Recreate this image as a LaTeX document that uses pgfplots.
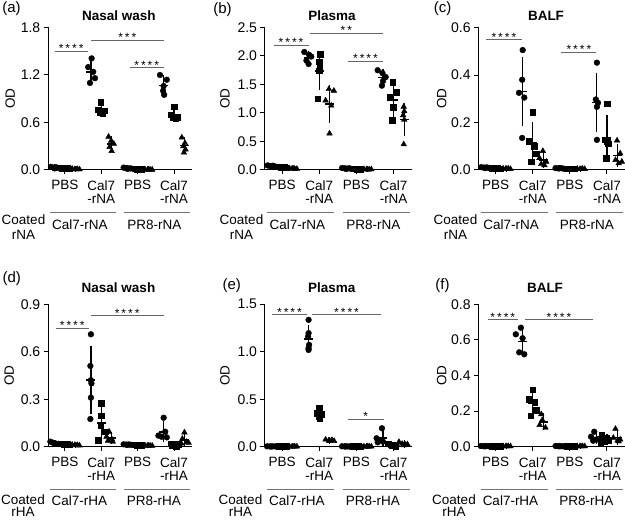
\documentclass[border=0pt]{standalone}
\usepackage{fontspec}
\setmainfont{Liberation Sans}
\usepackage{pgfplots}
\pgfplotsset{compat=1.18}
\newcommand{\fA}{\fontsize{13.5}{13.4}\selectfont}
\newcommand{\fB}{\fontsize{14}{14}\selectfont}
\tikzset{
  star/.style={anchor=base, yshift=-1.3pt, font=\fontsize{12}{12}\selectfont, inner sep=0pt},
  sig/.style={draw=black!60, line width=0.9pt},
  grp/.style={draw=black!55, line width=0.9pt},
  lab/.style={font=\fA, inner sep=0pt, anchor=base},
}
\pgfplotsset{
  panel/.style={
    scale only axis, height=142.5pt, clip=false,
    axis lines=left, axis line style={-, line width=1pt, black},
    tick style={line width=1pt, black}, tick align=outside, major tick length=4.5pt,
    xmin=-0.6, xmax=13.2, ymin=0,
    xtick={1,4.5,8,11.5},
    xticklabel style={align=center, font=\fA, yshift=-2.5pt},
    yticklabel style={font=\fB, /pgf/number format/.cd, fixed, fixed zerofill, precision=1},
    /pgf/number format/assume math mode=true,
    anchor=south west,
  },
  circ/.style={only marks, mark=*, mark size=2.9pt, black},
  sqr/.style={only marks, mark=square*, mark size=2.8pt, black},
  tri/.style={only marks, mark=triangle*, mark size=3.3pt, black},
  msd/.style={only marks, mark=-, mark size=4.5pt, mark options={line width=1.5pt}, black,
    error bars/.cd, y dir=both, y explicit, error bar style={line width=1.3pt, black},
    error mark options={mark size=2.5pt, line width=1.3pt, black}},
}
\begin{document}
\begin{tikzpicture}
\useasboundingbox (0pt,0pt) rectangle (625pt,520pt);

% ---------------- (a) ----------------
\begin{axis}[panel, at={(48.3pt,350pt)}, width=143.4pt, ymax=1.8, ytick={0,0.6,1.2,1.8},
  xticklabels={PBS,{Cal7\\-rNA},PBS,{Cal7\\-rNA}}]
\addplot[circ] coordinates {(-0.35,0.04)(-0.1,0.03)(0.15,0.035)(0.35,0.025)(0.0,0.02)
 (3.57,1.41)(3.24,1.30)(3.72,1.24)(3.89,1.16)(3.41,1.10)
 (6.65,0.03)(6.9,0.025)(7.15,0.02)(7.35,0.02)(7.0,0.015)
 (10.15,1.2)(10.8,1.14)(10.5,1.06)(10.45,1.0)(10.55,0.95)};
\addplot[sqr] coordinates {(0.7,0.025)(0.95,0.02)(1.2,0.02)(1.4,0.015)(1.05,0.018)
 (4.45,0.86)(4.2,0.76)(4.8,0.75)(4.35,0.73)(4.65,0.72)
 (7.7,0.015)(7.95,0.01)(8.2,0.012)(8.4,0.008)(8.05,0.01)
 (11.5,0.80)(11.2,0.70)(11.8,0.67)(11.4,0.66)(11.65,0.65)};
\addplot[tri] coordinates {(1.7,0.015)(1.95,0.01)(2.2,0.012)(2.4,0.008)(2.05,0.01)
 (5.2,0.42)(5.45,0.37)(5.7,0.33)(5.3,0.29)(5.5,0.24)
 (8.7,0.008)(8.95,0.005)(9.2,0.006)(9.4,0.004)(9.05,0.005)
 (12.25,0.41)(12.55,0.34)(12.4,0.30)(12.6,0.26)(12.45,0.22)};
\addplot[msd] coordinates {(0,0.03)+-(0,0.008) (1,0.02)+-(0,0.004) (2,0.011)+-(0,0.003)
 (3.5,1.24)+-(0,0.14) (4.5,0.76)+-(0,0.055) (5.5,0.33)+-(0,0.07)
 (7,0.022)+-(0,0.006) (8,0.011)+-(0,0.003) (9,0.006)+-(0,0.002)
 (10.5,1.07)+-(0,0.10) (11.5,0.70)+-(0,0.06) (12.5,0.31)+-(0,0.07)};
\draw[sig] (axis cs:0,1.5) -- node[star]{*\,*\,*\,*} (axis cs:3.2,1.5);
\draw[sig] (axis cs:3.5,1.64) -- node[star]{*\,*\,*} (axis cs:10.5,1.64);
\draw[sig] (axis cs:7.25,1.29) -- node[star]{*\,*\,*\,*} (axis cs:10.5,1.29);
\draw[grp] ([yshift=-42.5pt]axis cs:-0.4,0) -- ([yshift=-42.5pt]axis cs:5.9,0);
\draw[grp] ([yshift=-42.5pt]axis cs:6.7,0) -- ([yshift=-42.5pt]axis cs:13.0,0);
\node[lab] at ([yshift=-60pt]axis cs:2.45,0) {Cal7-rNA};
\node[lab] at ([yshift=-60pt]axis cs:9.6,0) {PR8-rNA};
\node[rotate=90, font=\fA] at ([xshift=-38pt]axis description cs:0,0.5) {OD};
\end{axis}

% ---------------- (b) ----------------
\begin{axis}[panel, at={(265pt,350pt)}, width=146.7pt, ymax=2.5, ytick={0,0.5,1,1.5,2,2.5},
  xticklabels={PBS,{Cal7\\-rNA},PBS,{Cal7\\-rNA}}]
\addplot[circ] coordinates {(-0.35,0.08)(-0.1,0.07)(0.15,0.075)(0.35,0.06)(0.0,0.065)
 (3.1,2.07)(3.55,2.02)(3.75,1.99)(3.3,1.92)(3.5,1.86)
 (6.65,0.035)(6.9,0.03)(7.15,0.025)(7.35,0.03)(7.0,0.02)
 (10.0,1.75)(10.45,1.70)(10.75,1.63)(10.5,1.56)(10.4,1.48)};
\addplot[sqr] coordinates {(0.7,0.06)(0.95,0.05)(1.2,0.045)(1.4,0.04)(1.05,0.05)
 (4.6,2.03)(4.5,1.90)(4.55,1.80)(4.5,1.74)(4.35,1.25)
 (7.7,0.02)(7.95,0.02)(8.2,0.015)(8.4,0.015)(8.05,0.01)
 (11.4,1.54)(11.75,1.36)(11.2,1.28)(11.45,1.10)(11.35,0.87)};
\addplot[tri] coordinates {(1.7,0.03)(1.95,0.025)(2.2,0.02)(2.4,0.02)(2.05,0.025)
 (5.41,1.42)(5.88,1.39)(5.1,1.22)(5.63,1.13)(5.47,0.64)
 (8.7,0.015)(8.95,0.012)(9.2,0.01)(9.4,0.012)(9.05,0.008)
 (12.45,1.11)(12.5,1.03)(12.4,0.96)(12.5,0.88)(12.45,0.45)};
\addplot[msd] coordinates {(0,0.07)+-(0,0.008) (1,0.05)+-(0,0.008) (2,0.024)+-(0,0.004)
 (3.5,1.97)+-(0,0.08) (4.5,1.74)+-(0,0.30) (5.5,1.16)+-(0,0.29)
 (7,0.028)+-(0,0.005) (8,0.015)+-(0,0.004) (9,0.011)+-(0,0.003)
 (10.5,1.62)+-(0,0.11) (11.5,1.23)+-(0,0.26) (12.5,0.89)+-(0,0.25)};
\draw[sig] (axis cs:0.2,2.19) -- node[star]{*\,*\,*\,*} (axis cs:3.5,2.19);
\draw[sig] (axis cs:3.6,2.40) -- node[star]{*\,*} (axis cs:10.5,2.40);
\draw[sig] (axis cs:7.2,1.90) -- node[star]{*\,*\,*\,*} (axis cs:10.5,1.90);
\draw[grp] ([yshift=-42.5pt]axis cs:-0.4,0) -- ([yshift=-42.5pt]axis cs:5.9,0);
\draw[grp] ([yshift=-42.5pt]axis cs:6.7,0) -- ([yshift=-42.5pt]axis cs:13.0,0);
\node[lab] at ([yshift=-60pt]axis cs:2.45,0) {Cal7-rNA};
\node[lab] at ([yshift=-60pt]axis cs:9.6,0) {PR8-rNA};
\node[rotate=90, font=\fA] at ([xshift=-40pt]axis description cs:0,0.5) {OD};
\end{axis}

% ---------------- (c) ----------------
\begin{axis}[panel, at={(478.7pt,350pt)}, width=146.3pt, ymax=0.6, ytick={0,0.2,0.4,0.6},
  xticklabels={PBS,{Cal7\\-rNA},PBS,{Cal7\\-rNA}}]
\addplot[circ] coordinates {(-0.35,0.012)(-0.1,0.01)(0.15,0.011)(0.35,0.009)(0.0,0.008)
 (3.55,0.505)(3.5,0.38)(3.2,0.325)(3.7,0.305)(3.5,0.135)
 (6.65,0.008)(6.9,0.007)(7.15,0.008)(7.35,0.006)(7.0,0.007)
 (10.55,0.452)(10.45,0.297)(10.65,0.283)(10.55,0.266)(10.55,0.127)};
\addplot[sqr] coordinates {(0.7,0.008)(0.95,0.007)(1.2,0.008)(1.4,0.006)(1.05,0.007)
 (4.5,0.243)(4.18,0.12)(4.65,0.10)(4.8,0.068)(4.34,0.035)
 (7.7,0.006)(7.95,0.005)(8.2,0.006)(8.4,0.005)(8.05,0.006)
 (11.5,0.28)(11.35,0.127)(11.6,0.11)(11.4,0.05)(11.5,0.12)};
\addplot[tri] coordinates {(1.7,0.006)(1.95,0.005)(2.2,0.006)(2.4,0.004)(2.05,0.005)
 (5.45,0.08)(5.13,0.05)(5.77,0.035)(5.3,0.025)(5.6,0.02)
 (8.7,0.005)(8.95,0.004)(9.2,0.005)(9.4,0.004)(9.05,0.004)
 (12.45,0.124)(12.75,0.07)(12.3,0.042)(12.9,0.035)(12.6,0.028)};
\addplot[msd] coordinates {(0,0.01)+-(0,0.002) (1,0.007)+-(0,0.001) (2,0.005)+-(0,0.001)
 (3.5,0.33)+-(0,0.135) (4.5,0.113)+-(0,0.077) (5.5,0.042)+-(0,0.024)
 (7,0.007)+-(0,0.001) (8,0.006)+-(0,0.001) (9,0.004)+-(0,0.001)
 (10.5,0.285)+-(0,0.113) (11.5,0.137)+-(0,0.085) (12.5,0.06)+-(0,0.038)};
\draw[sig] (axis cs:0.1,0.548) -- node[star]{*\,*\,*\,*} (axis cs:3.45,0.548);
\draw[sig] (axis cs:7.2,0.494) -- node[star]{*\,*\,*\,*} (axis cs:10.5,0.494);
\draw[grp] ([yshift=-42.5pt]axis cs:-0.4,0) -- ([yshift=-42.5pt]axis cs:5.9,0);
\draw[grp] ([yshift=-42.5pt]axis cs:6.7,0) -- ([yshift=-42.5pt]axis cs:13.0,0);
\node[lab] at ([yshift=-60pt]axis cs:2.45,0) {Cal7-rNA};
\node[lab] at ([yshift=-60pt]axis cs:9.6,0) {PR8-rNA};
\node[rotate=90, font=\fA] at ([xshift=-37pt]axis description cs:0,0.5) {OD};
\end{axis}

% ---------------- (d) ----------------
\begin{axis}[panel, at={(48.3pt,73.3pt)}, width=143.4pt, ymax=0.9, ytick={0,0.3,0.6,0.9},
  xticklabels={PBS,{Cal7\\-rHA},PBS,{Cal7\\-rHA}}]
\addplot[circ] coordinates {(-0.4,0.032)(-0.15,0.025)(0.1,0.02)(0.35,0.018)(0.0,0.022)
 (3.5,0.71)(3.45,0.51)(3.5,0.42)(3.55,0.40)(3.5,0.31)(3.45,0.175)
 (6.65,0.015)(6.9,0.013)(7.15,0.014)(7.35,0.012)(7.0,0.012)
 (10.5,0.183)(10.0,0.07)(10.65,0.095)(10.3,0.063)(10.8,0.059)};
\addplot[sqr] coordinates {(0.7,0.018)(0.95,0.015)(1.2,0.015)(1.4,0.012)(1.05,0.014)
 (4.5,0.274)(4.5,0.196)(4.45,0.137)(4.85,0.095)(4.2,0.042)
 (7.7,0.012)(7.95,0.01)(8.2,0.011)(8.4,0.009)(8.05,0.01)
 (11.2,0.02)(11.45,0.01)(11.7,0.005)(11.9,0.015)(11.3,0.008)};
\addplot[tri] coordinates {(1.7,0.012)(1.95,0.01)(2.2,0.01)(2.4,0.008)(2.05,0.009)
 (5.25,0.095)(5.0,0.063)(5.5,0.049)(5.15,0.038)(5.6,0.032)
 (8.7,0.008)(8.95,0.007)(9.2,0.007)(9.4,0.006)(9.05,0.006)
 (12.5,0.09)(12.3,0.05)(12.7,0.03)(12.9,0.025)(12.2,0.02)};
\addplot[msd] coordinates {(0,0.023)+-(0,0.005) (1,0.015)+-(0,0.003) (2,0.01)+-(0,0.002)
 (3.5,0.42)+-(0,0.20) (4.5,0.15)+-(0,0.085) (5.5,0.055)+-(0,0.025)
 (7,0.013)+-(0,0.002) (8,0.01)+-(0,0.001) (9,0.007)+-(0,0.001)
 (10.5,0.094)+-(0,0.05) (11.5,0.012)+-(0,0.006) (12.5,0.043)+-(0,0.03)};
\draw[sig] (axis cs:0.1,0.748) -- node[star]{*\,*\,*\,*} (axis cs:3.3,0.748);
\draw[sig] (axis cs:3.47,0.826) -- node[star]{*\,*\,*\,*} (axis cs:10.5,0.826);
\draw[grp] ([yshift=-42.5pt]axis cs:-0.4,0) -- ([yshift=-42.5pt]axis cs:5.9,0);
\draw[grp] ([yshift=-42.5pt]axis cs:6.7,0) -- ([yshift=-42.5pt]axis cs:13.0,0);
\node[lab] at ([yshift=-59pt]axis cs:2.4,0) {Cal7-rHA};
\node[lab] at ([yshift=-59pt]axis cs:9.55,0) {PR8-rHA};
\node[rotate=90, font=\fA] at ([xshift=-39pt]axis description cs:0,0.5) {OD};
\end{axis}

% ---------------- (e) ----------------
\begin{axis}[panel, at={(265pt,73.3pt)}, width=146.7pt, ymax=1.5, ytick={0,0.5,1,1.5},
  xticklabels={PBS,{Cal7\\-rHA},PBS,{Cal7\\-rHA}}]
\addplot[circ] coordinates {(-0.4,0.004)(-0.15,0.003)(0.1,0.004)(0.35,0.003)(0.0,0.002)
 (3.5,1.335)(3.5,1.195)(3.45,1.159)(3.55,1.072)(3.5,1.037)(3.5,1.019)
 (6.65,0.004)(6.9,0.003)(7.15,0.003)(7.35,0.002)(7.0,0.003)
 (10.4,0.194)(9.9,0.089)(10.2,0.07)(10.5,0.053)(10.0,0.046)};
\addplot[sqr] coordinates {(0.7,0.003)(0.95,0.003)(1.2,0.002)(1.4,0.003)(1.05,0.002)
 (4.5,0.405)(4.3,0.352)(4.7,0.345)(4.45,0.316)(4.55,0.30)
 (7.7,0.003)(7.95,0.002)(8.2,0.003)(8.4,0.002)(8.05,0.002)
 (11.0,0.03)(11.25,0.02)(11.5,0.01)(11.7,0.005)(11.35,0.015)};
\addplot[tri] coordinates {(1.7,0.003)(1.95,0.002)(2.2,0.003)(2.4,0.002)(2.05,0.002)
 (5.1,0.075)(5.4,0.065)(5.7,0.07)(5.5,0.06)(5.9,0.06)
 (8.7,0.002)(8.95,0.002)(9.2,0.003)(9.4,0.002)(9.05,0.002)
 (12.0,0.05)(12.3,0.03)(12.6,0.02)(12.8,0.025)(12.45,0.015)};
\addplot[msd] coordinates {(0,0.003)+-(0,0.001) (1,0.003)+-(0,0.001) (2,0.002)+-(0,0.001)
 (3.5,1.136)+-(0,0.12) (4.5,0.344)+-(0,0.04) (5.5,0.066)+-(0,0.007)
 (7,0.003)+-(0,0.001) (8,0.002)+-(0,0.001) (9,0.002)+-(0,0.001)
 (10.5,0.09)+-(0,0.06) (11.5,0.016)+-(0,0.01) (12.5,0.028)+-(0,0.013)};
\draw[sig] (axis cs:0.05,1.388) -- node[star]{*\,*\,*\,*} (axis cs:3.35,1.388);
\draw[sig] (axis cs:3.84,1.388) -- node[star]{*\,*\,*\,*} (axis cs:10.3,1.388);
\draw[sig] (axis cs:7.2,0.29) -- node[star]{*} (axis cs:10.55,0.29);
\draw[grp] ([yshift=-42.5pt]axis cs:-0.4,0) -- ([yshift=-42.5pt]axis cs:5.9,0);
\draw[grp] ([yshift=-42.5pt]axis cs:6.7,0) -- ([yshift=-42.5pt]axis cs:13.0,0);
\node[lab] at ([yshift=-59pt]axis cs:2.4,0) {Cal7-rHA};
\node[lab] at ([yshift=-59pt]axis cs:9.55,0) {PR8-rHA};
\node[rotate=90, font=\fA] at ([xshift=-40pt]axis description cs:0,0.5) {OD};
\end{axis}

% ---------------- (f) ----------------
\begin{axis}[panel, at={(478.7pt,73.3pt)}, width=146.3pt, ymax=0.8, ytick={0,0.2,0.4,0.6,0.8},
  xticklabels={PBS,{Cal7\\-rHA},PBS,{Cal7\\-rHA}}]
\addplot[circ] coordinates {(-0.4,0.004)(-0.15,0.003)(0.1,0.004)(0.35,0.003)(0.0,0.002)
 (3.38,0.668)(2.9,0.631)(3.54,0.609)(3.22,0.53)(3.7,0.519)
 (6.65,0.004)(6.9,0.003)(7.15,0.003)(7.35,0.002)(7.0,0.003)
 (10.3,0.084)(10.0,0.056)(10.6,0.043)(10.2,0.034)(10.7,0.04)};
\addplot[sqr] coordinates {(0.7,0.003)(0.95,0.003)(1.2,0.002)(1.4,0.003)(1.05,0.002)
 (4.5,0.319)(4.15,0.268)(4.7,0.249)(4.8,0.206)(4.3,0.174)
 (7.7,0.003)(7.95,0.002)(8.2,0.003)(8.4,0.002)(8.05,0.002)
 (11.0,0.065)(11.4,0.05)(11.2,0.03)(11.6,0.035)(10.9,0.02)};
\addplot[tri] coordinates {(1.7,0.003)(1.95,0.002)(2.2,0.003)(2.4,0.002)(2.05,0.002)
 (5.3,0.182)(5.4,0.15)(5.15,0.122)(5.7,0.107)
 (8.7,0.002)(8.95,0.002)(9.2,0.003)(9.4,0.002)(9.05,0.002)
 (12.3,0.10)(12.1,0.05)(12.6,0.03)(12.5,0.035)(12.75,0.04)};
\addplot[msd] coordinates {(0,0.003)+-(0,0.001) (1,0.003)+-(0,0.001) (2,0.002)+-(0,0.001)
 (3.5,0.59)+-(0,0.066) (4.5,0.243)+-(0,0.055) (5.5,0.14)+-(0,0.033)
 (7,0.003)+-(0,0.001) (8,0.002)+-(0,0.001) (9,0.002)+-(0,0.001)
 (10.5,0.05)+-(0,0.02) (11.5,0.04)+-(0,0.017) (12.5,0.051)+-(0,0.03)};
\draw[sig] (axis cs:0.25,0.712) -- node[star]{*\,*\,*\,*} (axis cs:3.1,0.712);
\draw[sig] (axis cs:3.75,0.712) -- node[star]{*\,*\,*\,*} (axis cs:10.2,0.712);
\draw[grp] ([yshift=-42.5pt]axis cs:-0.4,0) -- ([yshift=-42.5pt]axis cs:5.9,0);
\draw[grp] ([yshift=-42.5pt]axis cs:6.7,0) -- ([yshift=-42.5pt]axis cs:13.0,0);
\node[lab] at ([yshift=-59pt]axis cs:2.4,0) {Cal7-rHA};
\node[lab] at ([yshift=-59pt]axis cs:9.55,0) {PR8-rHA};
\node[rotate=90, font=\fA] at ([xshift=-37pt]axis description cs:0,0.5) {OD};
\end{axis}

% ---------------- titles, panel labels, row labels ----------------
\begin{scope}[every node/.style={inner sep=0pt}]
\node[anchor=base, font=\bfseries\fA] at (118.8pt,499.5pt) {Nasal wash};
\node[anchor=base, font=\bfseries\fA] at (332pt,499.5pt) {Plasma};
\node[anchor=base, font=\bfseries\fA] at (546pt,499.5pt) {BALF};
\node[anchor=base, font=\bfseries\fA] at (118.5pt,227.7pt) {Nasal wash};
\node[anchor=base, font=\bfseries\fA] at (331.7pt,227.7pt) {Plasma};
\node[anchor=base, font=\bfseries\fA] at (545pt,227.7pt) {BALF};
\node[font=\fontsize{15}{15}\selectfont] at (11.5pt,511.5pt) {(a)};
\node[font=\fontsize{15}{15}\selectfont] at (222.5pt,510.3pt) {(b)};
\node[font=\fontsize{15}{15}\selectfont] at (442.5pt,511.7pt) {(c)};
\node[font=\fontsize{15}{15}\selectfont] at (11.7pt,241pt) {(d)};
\node[font=\fontsize{15}{15}\selectfont] at (231.7pt,234.5pt) {(e)};
\node[font=\fontsize{15}{15}\selectfont] at (442.5pt,234.5pt) {(f)};
\foreach \cx in {23.5,241.5,455.5}{
  \node[anchor=north, align=center, font=\fontsize{13.5}{15}\selectfont] at (\cx pt,305pt) {Coated\\rNA};
}
\foreach \cx in {23,240.5,454}{
  \node[anchor=north, align=center, font=\fontsize{13.5}{12}\selectfont] at (\cx pt,25pt) {Coated\\rHA};
}
\end{scope}
\end{tikzpicture}
\end{document}
